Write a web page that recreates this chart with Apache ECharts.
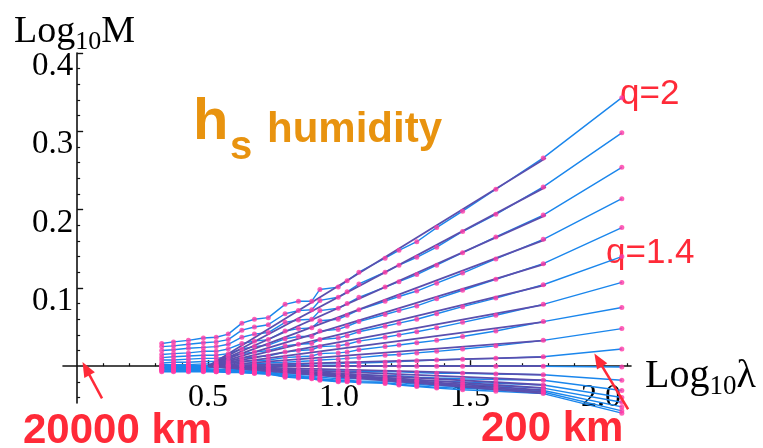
<!DOCTYPE html>
<html>
<head>
<meta charset="utf-8">
<script src="https://cdn.jsdelivr.net/npm/echarts@6/dist/echarts.min.js"></script>
<style>
html, body { margin: 0; padding: 0; background: #fff; }
#chart { width: 763px; height: 448px; }
</style>
</head>
<body>
<div id="chart"></div>
<script>
// ==========================================
// DATA
// ==========================================
const logLambda = [0.323, 0.368, 0.425, 0.482, 0.531, 0.577, 0.629, 0.677, 0.730, 0.794, 0.845, 0.896,
  0.927, 0.997, 1.031, 1.076, 1.176, 1.229, 1.297, 1.373, 1.472, 1.599, 1.780, 2.080];

const mq20 = [0.029, 0.031, 0.033, 0.036, 0.037, 0.041, 0.055, 0.060, 0.062, 0.079, 0.083, 0.083, 0.098, 0.101, 0.109, 0.120, 0.138, 0.148, 0.159, 0.177, 0.198, 0.226, 0.266, 0.343];
const mq19 = [0.025, 0.026, 0.028, 0.030, 0.031, 0.034, 0.046, 0.050, 0.053, 0.067, 0.071, 0.072, 0.084, 0.088, 0.095, 0.105, 0.120, 0.129, 0.139, 0.152, 0.172, 0.194, 0.229, 0.298];
const mq18 = [0.020, 0.021, 0.023, 0.024, 0.025, 0.028, 0.037, 0.041, 0.043, 0.056, 0.059, 0.060, 0.071, 0.074, 0.080, 0.088, 0.101, 0.108, 0.117, 0.129, 0.145, 0.165, 0.193, 0.254];
const mq17 = [0.015, 0.016, 0.017, 0.019, 0.019, 0.022, 0.029, 0.032, 0.034, 0.045, 0.048, 0.049, 0.058, 0.060, 0.065, 0.072, 0.083, 0.089, 0.096, 0.106, 0.119, 0.137, 0.162, 0.214];
const mq16 = [0.011, 0.012, 0.013, 0.014, 0.014, 0.016, 0.022, 0.025, 0.027, 0.035, 0.038, 0.038, 0.045, 0.047, 0.051, 0.057, 0.066, 0.071, 0.077, 0.086, 0.097, 0.111, 0.131, 0.177];
const mq15 = [0.008, 0.008, 0.009, 0.010, 0.010, 0.012, 0.016, 0.018, 0.020, 0.026, 0.028, 0.029, 0.034, 0.036, 0.039, 0.044, 0.051, 0.055, 0.060, 0.067, 0.076, 0.087, 0.104, 0.140];
const mq14 = [0.004, 0.005, 0.005, 0.006, 0.006, 0.007, 0.010, 0.012, 0.013, 0.018, 0.020, 0.021, 0.025, 0.026, 0.028, 0.032, 0.037, 0.040, 0.044, 0.049, 0.056, 0.065, 0.079, 0.107];
const mq13 = [0.002, 0.002, 0.002, 0.003, 0.003, 0.004, 0.006, 0.007, 0.008, 0.011, 0.012, 0.013, 0.016, 0.017, 0.018, 0.021, 0.025, 0.027, 0.030, 0.033, 0.038, 0.045, 0.057, 0.075];
const mq12 = [0.001, 0.001, 0.001, 0.001, 0.001, 0.002, 0.003, 0.003, 0.004, 0.005, 0.006, 0.007, 0.008, 0.009, 0.010, 0.011, 0.014, 0.015, 0.017, 0.019, 0.022, 0.026, 0.033, 0.048];
const mq11 = [0.000, 0.000, 0.000, 0.000, 0.000, 0.001, 0.001, 0.001, 0.001, 0.002, 0.002, 0.003, 0.003, 0.003, 0.004, 0.004, 0.005, 0.006, 0.007, 0.008, 0.009, 0.010, 0.012, 0.022];
const mq10 = [0, 0, 0, 0, 0, 0, 0, 0, 0, 0, 0, 0, 0, 0, 0, 0, 0, 0, 0, 0, 0, 0, 0, -0.001];
const mq09 = [-0.002, -0.002, -0.002, -0.002, -0.002, -0.002, -0.003, -0.003, -0.003, -0.004, -0.005, -0.005, -0.006, -0.006, -0.006, -0.007, -0.007, -0.007, -0.008, -0.009, -0.009, -0.010, -0.011, -0.018];
const mq08 = [-0.003, -0.003, -0.003, -0.003, -0.004, -0.004, -0.004, -0.005, -0.005, -0.007, -0.008, -0.008, -0.009, -0.010, -0.010, -0.011, -0.012, -0.012, -0.014, -0.015, -0.016, -0.017, -0.018, -0.031];
const mq07 = [-0.004, -0.004, -0.004, -0.004, -0.005, -0.005, -0.006, -0.006, -0.007, -0.010, -0.010, -0.011, -0.012, -0.014, -0.014, -0.014, -0.015, -0.016, -0.018, -0.019, -0.020, -0.022, -0.024, -0.040];
const mq06 = [-0.004, -0.005, -0.005, -0.005, -0.006, -0.006, -0.006, -0.007, -0.008, -0.011, -0.012, -0.013, -0.014, -0.016, -0.016, -0.016, -0.017, -0.019, -0.020, -0.022, -0.023, -0.025, -0.028, -0.046];
const mq05 = [-0.005, -0.005, -0.005, -0.006, -0.006, -0.006, -0.007, -0.008, -0.009, -0.012, -0.013, -0.014, -0.016, -0.018, -0.018, -0.019, -0.019, -0.021, -0.023, -0.025, -0.026, -0.028, -0.031, -0.052];
const mq04 = [-0.006, -0.006, -0.006, -0.006, -0.007, -0.007, -0.008, -0.009, -0.010, -0.013, -0.014, -0.015, -0.017, -0.019, -0.019, -0.020, -0.021, -0.023, -0.025, -0.027, -0.028, -0.030, -0.033, -0.057];
const mq03 = [-0.007, -0.007, -0.007, -0.007, -0.007, -0.008, -0.008, -0.009, -0.010, -0.014, -0.015, -0.016, -0.018, -0.020, -0.020, -0.021, -0.022, -0.024, -0.026, -0.028, -0.030, -0.032, -0.035, -0.060];

const qValues = [2.0, 1.9, 1.8, 1.7, 1.6, 1.5, 1.4, 1.3, 1.2, 1.1, 1.0, 0.9, 0.8, 0.7, 0.6, 0.5, 0.4, 0.3];
const moments = [mq20, mq19, mq18, mq17, mq16, mq15, mq14, mq13, mq12, mq11, mq10, mq09, mq08, mq07, mq06, mq05, mq04, mq03];

// regression lines: all start at the outer scale, end at the last fitted scale
const fitStart = [0.5, 0];
const fitEndX = 1.79;
const fitEnd = [0.266, 0.229, 0.193, 0.162, 0.131, 0.104, 0.079, 0.057, 0.033, 0.012, 0.000, -0.011, -0.018, -0.024, -0.028, -0.031, -0.033, -0.035];

// ticks
const xMinorTicks = [0.1, 0.2, 0.3, 0.4, 0.6, 0.7, 0.8, 0.9, 1.1, 1.2, 1.3, 1.4, 1.6, 1.7, 1.8, 1.9, 2.1];
const xMajorTicks = [0.5, 1.0, 1.5, 2.0];
const yMinorTicks = [-0.04, -0.02, 0.02, 0.04, 0.06, 0.08, 0.12, 0.14, 0.16, 0.18, 0.22, 0.24, 0.26, 0.28, 0.32, 0.34, 0.36, 0.38];
const yMajorTicks = [0.1, 0.2, 0.3, 0.4];

// red arrows marking the 20000 km and 200 km scales: [tail, tip]
const arrows = [
  [[0.095, -0.041], [0.034, -0.003]],
  [[2.104, -0.055], [1.990, 0.008]]
];

// ==========================================
// STYLE
// ==========================================
const BLUE = '#1a86ec';
const PURPLE = '#5a4fae';
const PINK = '#ff3aa6';
const RED = '#ff2a38';
const ORANGE = '#e8930f';
const SERIF = '"Liberation Serif", "DejaVu Serif", serif';
const SANS = '"Liberation Sans", Arial, sans-serif';

const W = 763, H = 448;
const GRID = { left: 63, right: 132, top: 53, bottom: 45 };
const X_MIN = -0.054, X_MAX = 2.115, Y_MIN = -0.047, Y_MAX = 0.4;
const plotW = W - GRID.left - GRID.right;
const plotH = H - GRID.top - GRID.bottom;
// the label axes sit on the zero lines, moved there with offset
const zeroRowOffset = -plotH * (0 - Y_MIN) / (Y_MAX - Y_MIN);
const zeroColOffset = -plotW * (0 - X_MIN) / (X_MAX - X_MIN);

// markLine drops coords outside the grid, so arrow ends are given in pixels
function toPx(p) {
  return {
    x: GRID.left + plotW * (p[0] - X_MIN) / (X_MAX - X_MIN),
    y: GRID.top + plotH * (Y_MAX - p[1]) / (Y_MAX - Y_MIN)
  };
}

// ==========================================
// SERIES
// ==========================================
const series = [];
moments.forEach((m, i) => {
  series.push({
    name: 'q=' + qValues[i],
    type: 'line',
    data: logLambda.map((x, j) => [x, m[j]]),
    showSymbol: false,
    clip: false,
    silent: true,
    z: 2,
    lineStyle: { color: BLUE, width: 1.4 }
  });
});
fitEnd.forEach((v, i) => {
  series.push({
    name: 'fit q=' + qValues[i],
    type: 'line',
    data: [fitStart, [fitEndX, v]],
    showSymbol: false,
    clip: false,
    silent: true,
    z: 3,
    lineStyle: { color: PURPLE, width: 1.8 }
  });
});
const dots = [];
moments.forEach(m => logLambda.forEach((x, j) => dots.push([x, m[j]])));
series.push({
  type: 'scatter',
  data: dots,
  symbolSize: 5,
  clip: false,
  silent: true,
  z: 4,
  itemStyle: { color: PINK },
  markLine: {
    silent: true,
    symbol: ['none', 'triangle'],
    symbolSize: [12, 15],
    label: { show: false },
    lineStyle: { color: RED, width: 2.5, type: 'solid' },
    data: arrows.map(a => [toPx(a[0]), toPx(a[1])])
  }
});

// ==========================================
// CHART
// ==========================================
const chart = echarts.init(document.getElementById('chart'));
chart.setOption({
  animation: false,
  backgroundColor: '#fff',
  grid: GRID,
  xAxis: [
    {
      type: 'value', min: X_MIN, max: X_MAX, position: 'bottom',
      axisLine: { onZero: true, onZeroAxisIndex: 0, lineStyle: { color: '#111', width: 1.6 } },
      axisTick: { inside: true, length: 3, customValues: xMinorTicks, lineStyle: { color: '#111', width: 1.2 } },
      axisLabel: { show: false },
      splitLine: { show: false }
    },
    {
      type: 'value', min: X_MIN, max: X_MAX, position: 'bottom', offset: zeroRowOffset,
      axisLine: { show: false, onZero: false },
      axisTick: { inside: true, length: 6, customValues: xMajorTicks, lineStyle: { color: '#111', width: 1.4 } },
      axisLabel: {
        customValues: xMajorTicks, margin: 15,
        fontFamily: SERIF, fontSize: 32, color: '#000',
        formatter: v => v.toFixed(1)
      },
      splitLine: { show: false }
    }
  ],
  yAxis: [
    {
      type: 'value', min: Y_MIN, max: Y_MAX, position: 'left',
      axisLine: { onZero: true, onZeroAxisIndex: 0, lineStyle: { color: '#111', width: 1.6 } },
      axisTick: { inside: true, length: 3, customValues: yMinorTicks, lineStyle: { color: '#111', width: 1.2 } },
      axisLabel: { show: false },
      splitLine: { show: false }
    },
    {
      type: 'value', min: Y_MIN, max: Y_MAX, position: 'left', offset: zeroColOffset,
      axisLine: { show: false, onZero: false },
      axisTick: { inside: true, length: 6, customValues: yMajorTicks, lineStyle: { color: '#111', width: 1.4 } },
      axisLabel: {
        customValues: yMajorTicks, margin: 4,
        fontFamily: SERIF, fontSize: 33, color: '#000',
        verticalAlign: 'top', lineHeight: 27,
        formatter: v => v.toFixed(1)
      },
      splitLine: { show: false }
    }
  ],
  graphic: [
    // axis names
    {
      type: 'text', x: 14, y: 55,
      style: {
        text: '{a|Log}{b|10}{a|M}', align: 'left', verticalAlign: 'bottom',
        rich: {
          a: { fontFamily: SERIF, fontSize: 38, fill: '#000', verticalAlign: 'bottom', padding: [0, 0, 4, 0] },
          b: { fontFamily: SERIF, fontSize: 26, fill: '#000', verticalAlign: 'bottom' }
        }
      }
    },
    {
      type: 'text', x: 645, y: 400,
      style: {
        text: '{a|Log}{b|10}{a|λ}', align: 'left', verticalAlign: 'bottom',
        rich: {
          a: { fontFamily: SERIF, fontSize: 40, fill: '#000', verticalAlign: 'bottom', padding: [0, 0, 4, 0] },
          b: { fontFamily: SERIF, fontSize: 27, fill: '#000', verticalAlign: 'bottom' }
        }
      }
    },
    // title annotation
    { type: 'text', x: 193, y: 123, style: { text: 'h', fontFamily: SANS, fontWeight: 'bold', fontSize: 58, fill: ORANGE, align: 'left', verticalAlign: 'middle' } },
    { type: 'text', x: 230, y: 148, style: { text: 's', fontFamily: SANS, fontWeight: 'bold', fontSize: 40, fill: ORANGE, align: 'left', verticalAlign: 'middle' } },
    { type: 'text', x: 267, y: 130, style: { text: 'humidity', fontFamily: SANS, fontWeight: 'bold', fontSize: 42, fill: ORANGE, align: 'left', verticalAlign: 'middle' } },
    // q labels
    { type: 'text', x: 620, y: 94, style: { text: 'q=2', fontFamily: SANS, fontSize: 35, fill: RED, align: 'left', verticalAlign: 'middle' } },
    { type: 'text', x: 606, y: 253, style: { text: 'q=1.4', fontFamily: SANS, fontSize: 35, fill: RED, align: 'left', verticalAlign: 'middle' } },
    // scale labels
    { type: 'text', x: 23, y: 431, style: { text: '20000 km', fontFamily: SANS, fontWeight: 'bold', fontSize: 42, fill: RED, align: 'left', verticalAlign: 'middle' } },
    { type: 'text', x: 481, y: 429, style: { text: '200 km', fontFamily: SANS, fontWeight: 'bold', fontSize: 42, fill: RED, align: 'left', verticalAlign: 'middle' } }
  ],
  series: series
});
</script>
</body>
</html>
